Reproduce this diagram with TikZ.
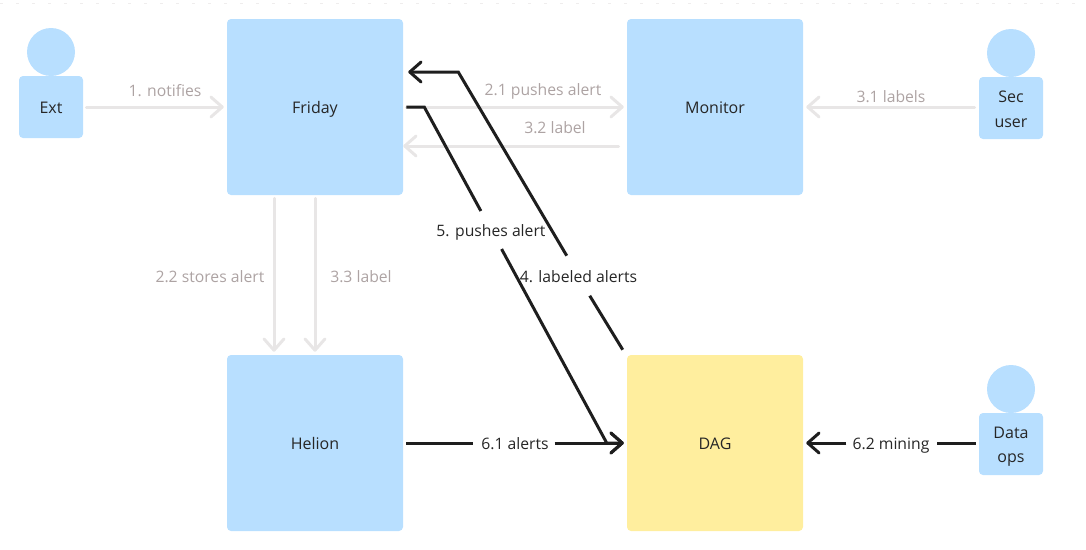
\documentclass[tikz,border=0pt]{standalone}
\usepackage{fontspec}
\setmainfont{Open Sans}
\usetikzlibrary{arrows.meta,calc}
\definecolor{boxblue}{HTML}{B8DFFF}
\definecolor{boxyellow}{HTML}{FFEE9E}
\definecolor{softline}{HTML}{E8E6E6}
\definecolor{softtext}{HTML}{ADA3A3}
\definecolor{inktext}{HTML}{262626}
\definecolor{inkline}{HTML}{1E1E1E}
\tikzset{
  bigbox/.style={rectangle,rounded corners=3pt,minimum width=132pt,minimum height=132pt,inner sep=0pt,fill=boxblue,text=inktext,font=\fontsize{12}{15}\selectfont,text height=10pt,text depth=1pt},
  bodybox/.style={rectangle,rounded corners=3pt,minimum width=48pt,minimum height=46.5pt,inner sep=0pt,fill=boxblue,text=inktext,align=center,font=\fontsize{12}{18.3}\selectfont},
  headdot/.style={circle,minimum size=36pt,inner sep=0pt,fill=boxblue},
  softarrow/.style={draw=softline,line width=2.25pt,-{Straight Barb[length=8.5pt,width=15pt,line width=2.25pt,round]},line cap=round},
  inkarrow/.style={draw=inkline,line width=2.25pt,-{Straight Barb[length=8.5pt,width=15pt,line width=2.25pt,round]}},
  inkline/.style={draw=inkline,line width=2.25pt},
  softlabel/.style={text=softtext,font=\fontsize{11.8}{14}\selectfont,inner sep=0pt,text height=9.5pt,text depth=1.5pt},
  inklabel/.style={text=inktext,font=\fontsize{11.8}{14}\selectfont,inner sep=0pt,text height=9.5pt,text depth=1.5pt},
}
\begin{document}
\begin{tikzpicture}[x=0.75pt,y=-0.75pt]
\useasboundingbox (0,0) rectangle (1086,550);
\draw[draw=softline!70,line width=0.75pt,dash pattern=on 2.5pt off 9.5pt] (0,3.3) -- (1086,3.3);
\node[bigbox] (fri) at (315,107) {Friday};
\node[bigbox] (mon) at (715,107) {Monitor};
\node[bigbox] (hel) at (315,443) {Helion};
\node[bigbox,fill=boxyellow] (dag) at (715,443) {DAG};
\node[headdot] (exthead) at (51,52) {};
\node[bodybox,text height=10pt,text depth=1pt] (ext) at (51,107) {Ext};
\node[headdot] (sechead) at (1011,53) {};
\node[bodybox] (sec) at (1011,108) {\rule{0pt}{10.5pt}Sec\\user};
\node[headdot] (opshead) at (1011,389) {};
\node[bodybox] (ops) at (1011,444) {\rule{0pt}{12.5pt}Data\\ops};
% soft connectors
\draw[softarrow] ($(ext.east)+(3,0)$) -- ($(fri.west)+(-3,0)$);
\draw[softarrow] ($(fri.east)+(3,0)$) -- ($(mon.west)+(-3,0)$);
\draw[softarrow] ($(mon.west)+(-8,39)$) -- ($(fri.east)+(0,39)$);
\draw[softarrow] ($(sec.west)+(-4,-1)$) -- ($(mon.east)+(3,0)$);
\draw[softarrow] ($(fri.south)+(-41,3)$) -- ($(hel.north)+(-41,-3)$);
\draw[softarrow] ($(fri.south)+(0,3)$) -- ($(hel.north)+(0,-3)$);
% ink connectors, each broken where its own label sits
\draw[inkline] ($(hel.east)+(3,0)$) -- ($(hel.east)+(70,0)$);
\draw[inkarrow] ($(dag.west)+(-72,0)$) -- ($(dag.west)+(-3,0)$);
\draw[inkline] ($(fri.east)+(3,0)$) -- ($(fri.east)+(21,0)$) -- ($(fri.east)+(77.6,104)$);
\draw[inkarrow] ($(fri.east)+(98.3,142)$) -- ($(dag.west)+(-20,0)$) -- ($(dag.west)+(-3,0)$);
\draw[inkline] ($(dag.north west)+(-4,-5)$) -- ($(dag.north west)+(-37,-59)$);
\draw[inkarrow] ($(dag.north west)+(-60,-99)$) -- ($(fri.east)+(55,-35)$) -- ($(fri.east)+(5,-35)$);
\draw[inkline] ($(ops.west)+(-3,-1)$) -- ($(ops.west)+(-42,-1)$);
\draw[inkarrow] ($(dag.east)+(43,0)$) -- ($(dag.east)+(3,0)$);
% labels
\node[softlabel] (l1) at (165,91) {1. notifies};
\node[softlabel] (l21) at (543,90) {2.1 pushes alert};
\node[softlabel] (l32) at (555,128) {3.2 label};
\node[softlabel] (l31) at (891,97) {3.1 labels};
\node[softlabel] (l22) at (210,277) {2.2 stores alert};
\node[softlabel] (l33) at (361,277) {3.3 label};
\node[inklabel] (l5) at (491,231) {5. pushes alert};
\node[inklabel] (l4) at (578.5,277) {4. labeled alerts};
\node[inklabel] (l61) at (515,444) {6.1 alerts};
\node[inklabel] (l62) at (891,444) {6.2 mining};
\end{tikzpicture}
\end{document}
